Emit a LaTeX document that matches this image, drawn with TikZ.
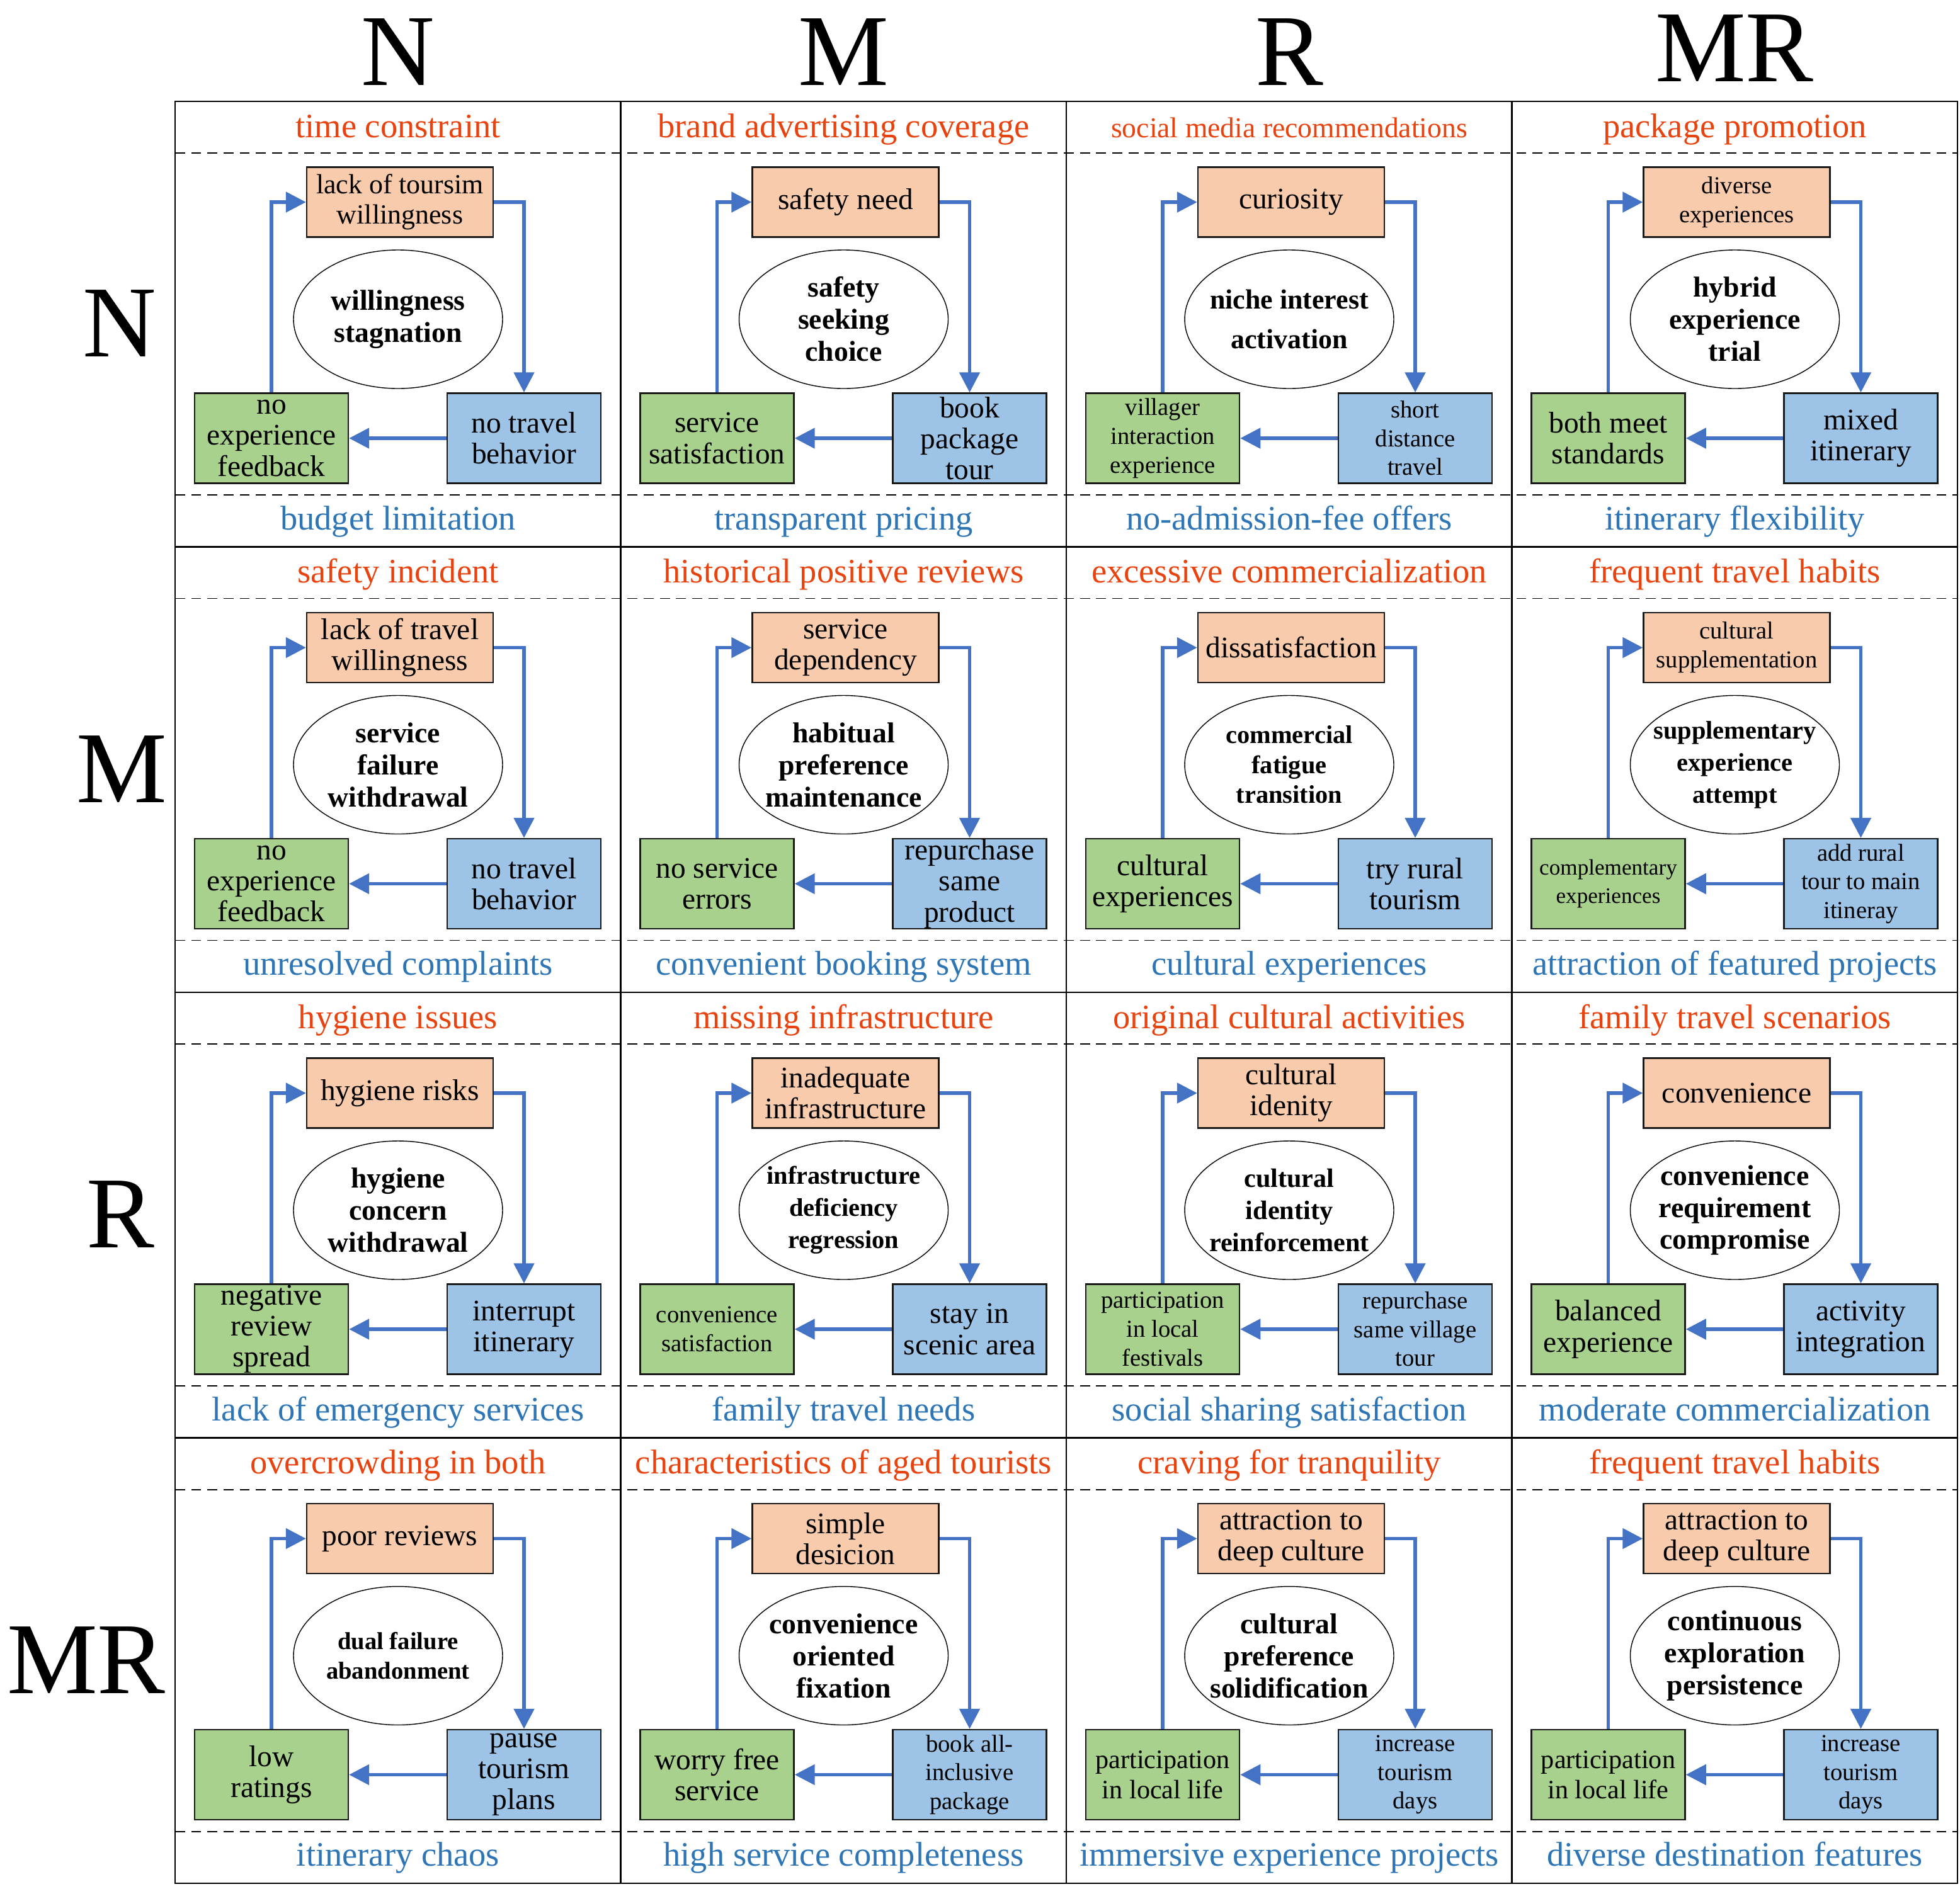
\documentclass[tikz,border=0pt]{standalone}
\usepackage{fontspec}
\setmainfont{Liberation Serif}
\usepackage{tikz}
\usetikzlibrary{arrows.meta, shapes.geometric}

\definecolor{stageorange}{HTML}{F8CBAD}
\definecolor{stageblue}{HTML}{9DC3E6}
\definecolor{stagegreen}{HTML}{A9D18E}
\definecolor{arrowblue}{HTML}{4472C4}
\definecolor{tagred}{HTML}{E8430F}
\definecolor{tagblue}{HTML}{2E75B6}

\newcommand{\stagefont}{\fontsize{13.5}{14}\selectfont}
\newcommand{\stagesmall}{\fontsize{11}{13}\selectfont}
\newcommand{\corefont}{\fontsize{13}{14.5}\selectfont\bfseries}
\newcommand{\tagfont}{\fontsize{15.5}{17}\selectfont}
\newcommand{\axisfont}{\fontsize{46}{46}\selectfont}

\tikzset{
  stagebox/.style={
    rectangle, draw=black!90, line width=0.7pt, fill=#1,
    minimum width=2.44cm, minimum height=1.43cm, inner sep=0pt,
    align=center, font=\stagefont
  },
  instate/.style={stagebox=stageorange, minimum width=2.96cm, minimum height=1.11cm},
  actbox/.style={stagebox=stageblue},
  fbbox/.style={stagebox=stagegreen},
  coreoval/.style={
    ellipse, draw=black, line width=0.4pt,
    minimum width=3.32cm, minimum height=2.2cm,
    inner xsep=-0.15cm, inner ysep=0pt,
    align=center, font=\corefont
  },
  looparrow/.style={-{Triangle[length=3.2mm, width=3.2mm]}, line width=1.5pt, color=arrowblue},
  triggerlabel/.style={anchor=base, text=tagred, font=\tagfont},
  outcomelabel/.style={anchor=base, text=tagblue, font=\tagfont},
  gridline/.style={line width=0.8pt, black},
  splitline/.style={line width=0.55pt, black, dash pattern=on 4.5pt off 2.8pt},
  axislabel/.style={anchor=base, font=\axisfont},
}

\begin{document}
\begin{tikzpicture}
  \useasboundingbox (0,0) rectangle (31.12,-30.07);

  % grid
  \draw[gridline] (2.78,-1.61) rectangle (31.08,-29.91);
  \foreach \x in {9.855,16.93,24.005}
    \draw[gridline] (\x,-1.61) -- (\x,-29.91);
  \foreach \y in {-8.685,-15.76,-22.835}
    \draw[gridline] (2.78,\y) -- (31.08,\y);
  \foreach \y in {-1.61,-8.685,-15.76,-22.835} {
    \draw[splitline] (2.78,\y-0.82) -- (31.08,\y-0.82);
    \draw[splitline] (2.78,\y-6.25) -- (31.08,\y-6.25);
  }

  % axis letters
  \node[axislabel] (col-n)  at (6.32,-1.35)  {N};
  \node[axislabel] (col-m)  at (13.39,-1.35) {M};
  \node[axislabel] (col-r)  at (20.47,-1.35) {R};
  \node[axislabel] (col-mr) at (27.54,-1.29) {MR};
  \node[axislabel] (row-n)  at (1.90,-5.66)  {N};
  \node[axislabel] (row-m)  at (1.93,-12.74) {M};
  \node[axislabel] (row-r)  at (1.91,-19.81) {R};
  \node[axislabel] (row-mr) at (1.37,-26.89) {MR};

  % row N
  \begin{scope}[shift={(2.78,-1.61)}]
    \node[triggerlabel] (r1c1-up)   at (3.54,-0.57) {time constraint};
    \node[instate, font=\fontsize{12.5}{13.8}\selectfont] (r1c1-in) at (3.57,-1.60) {lack of toursim\\willingness};
    \node[coreoval]     (r1c1-core) at (3.54,-3.46) {willingness\\stagnation};
    \node[actbox]       (r1c1-act)  at (5.54,-5.35) {no travel\\behavior};
    \node[fbbox]        (r1c1-fb)   at (1.53,-5.35) {no\\experience\\feedback};
    \node[outcomelabel] (r1c1-low)  at (3.54,-6.80) {budget limitation};
  \end{scope}
  \begin{scope}[shift={(9.855,-1.61)}]
    \node[triggerlabel] (r1c2-up)   at (3.54,-0.57) {brand advertising coverage};
    \node[instate]      (r1c2-in)   at (3.57,-1.60) {safety need};
    \node[coreoval]     (r1c2-core) at (3.54,-3.46) {safety\\seeking\\choice};
    \node[actbox]       (r1c2-act)  at (5.54,-5.35) {book\\package\\tour};
    \node[fbbox]        (r1c2-fb)   at (1.53,-5.35) {service\\satisfaction};
    \node[outcomelabel] (r1c2-low)  at (3.54,-6.80) {transparent pricing};
  \end{scope}
  \begin{scope}[shift={(16.93,-1.61)}]
    \node[triggerlabel, font=\fontsize{13}{15}\selectfont] (r1c3-up) at (3.54,-0.57) {social media recommendations};
    \node[instate]      (r1c3-in)   at (3.57,-1.60) {curiosity};
    \node[coreoval, font=\fontsize{12.5}{18}\selectfont\bfseries] (r1c3-core) at (3.54,-3.46) {niche interest\\activation};
    \node[actbox, font=\stagesmall] (r1c3-act) at (5.54,-5.35) {short\\distance\\travel};
    \node[fbbox, font=\stagesmall]  (r1c3-fb)  at (1.53,-5.35) {villager\\interaction\\experience};
    \node[outcomelabel] (r1c3-low)  at (3.54,-6.80) {no-admission-fee offers};
  \end{scope}
  \begin{scope}[shift={(24.005,-1.61)}]
    \node[triggerlabel] (r1c4-up)   at (3.54,-0.57) {package promotion};
    \node[instate, font=\stagesmall] (r1c4-in) at (3.57,-1.60) {diverse\\experiences};
    \node[coreoval]     (r1c4-core) at (3.54,-3.46) {hybrid\\experience\\trial};
    \node[actbox]       (r1c4-act)  at (5.54,-5.35) {mixed\\itinerary};
    \node[fbbox]        (r1c4-fb)   at (1.53,-5.35) {both meet\\standards};
    \node[outcomelabel] (r1c4-low)  at (3.54,-6.80) {itinerary flexibility};
  \end{scope}

  % row M
  \begin{scope}[shift={(2.78,-8.685)}]
    \node[triggerlabel] (r2c1-up)   at (3.54,-0.57) {safety incident};
    \node[instate]      (r2c1-in)   at (3.57,-1.60) {lack of travel\\willingness};
    \node[coreoval]     (r2c1-core) at (3.54,-3.46) {service\\failure\\withdrawal};
    \node[actbox]       (r2c1-act)  at (5.54,-5.35) {no travel\\behavior};
    \node[fbbox]        (r2c1-fb)   at (1.53,-5.35) {no\\experience\\feedback};
    \node[outcomelabel] (r2c1-low)  at (3.54,-6.80) {unresolved complaints};
  \end{scope}
  \begin{scope}[shift={(9.855,-8.685)}]
    \node[triggerlabel] (r2c2-up)   at (3.54,-0.57) {historical positive reviews};
    \node[instate]      (r2c2-in)   at (3.57,-1.60) {service\\dependency};
    \node[coreoval]     (r2c2-core) at (3.54,-3.46) {habitual\\preference\\maintenance};
    \node[actbox]       (r2c2-act)  at (5.54,-5.35) {repurchase\\same\\product};
    \node[fbbox]        (r2c2-fb)   at (1.53,-5.35) {no service\\errors};
    \node[outcomelabel] (r2c2-low)  at (3.54,-6.80) {convenient booking system};
  \end{scope}
  \begin{scope}[shift={(16.93,-8.685)}]
    \node[triggerlabel] (r2c3-up)   at (3.54,-0.57) {excessive commercialization};
    \node[instate]      (r2c3-in)   at (3.57,-1.60) {dissatisfaction};
    \node[coreoval, font=\fontsize{11.5}{13.5}\selectfont\bfseries] (r2c3-core) at (3.54,-3.46) {commercial\\fatigue\\transition};
    \node[actbox]       (r2c3-act)  at (5.54,-5.35) {try rural\\tourism};
    \node[fbbox]        (r2c3-fb)   at (1.53,-5.35) {cultural\\experiences};
    \node[outcomelabel] (r2c3-low)  at (3.54,-6.80) {cultural experiences};
  \end{scope}
  \begin{scope}[shift={(24.005,-8.685)}]
    \node[triggerlabel] (r2c4-up)   at (3.54,-0.57) {frequent travel habits};
    \node[instate, font=\stagesmall] (r2c4-in) at (3.57,-1.60) {cultural\\supplementation};
    \node[coreoval, font=\fontsize{11.5}{14.5}\selectfont\bfseries] (r2c4-core) at (3.54,-3.46) {supplementary\\experience\\attempt};
    \node[actbox, font=\stagesmall] (r2c4-act) at (5.54,-5.35) {add rural\\tour to main\\itineray};
    \node[fbbox, font=\fontsize{10}{13}\selectfont] (r2c4-fb) at (1.53,-5.35) {complementary\\experiences};
    \node[outcomelabel] (r2c4-low)  at (3.54,-6.80) {attraction of featured projects};
  \end{scope}

  % row R
  \begin{scope}[shift={(2.78,-15.76)}]
    \node[triggerlabel] (r3c1-up)   at (3.54,-0.57) {hygiene issues};
    \node[instate]      (r3c1-in)   at (3.57,-1.60) {hygiene risks};
    \node[coreoval]     (r3c1-core) at (3.54,-3.46) {hygiene\\concern\\withdrawal};
    \node[actbox]       (r3c1-act)  at (5.54,-5.35) {interrupt\\itinerary};
    \node[fbbox]        (r3c1-fb)   at (1.53,-5.35) {negative\\review\\spread};
    \node[outcomelabel] (r3c1-low)  at (3.54,-6.80) {lack of emergency services};
  \end{scope}
  \begin{scope}[shift={(9.855,-15.76)}]
    \node[triggerlabel] (r3c2-up)   at (3.54,-0.57) {missing infrastructure};
    \node[instate]      (r3c2-in)   at (3.57,-1.60) {inadequate\\infrastructure};
    \node[coreoval, font=\fontsize{11.5}{14.5}\selectfont\bfseries] (r3c2-core) at (3.54,-3.46) {infrastructure\\deficiency\\regression};
    \node[actbox]       (r3c2-act)  at (5.54,-5.35) {stay in\\scenic area};
    \node[fbbox, font=\stagesmall] (r3c2-fb) at (1.53,-5.35) {convenience\\satisfaction};
    \node[outcomelabel] (r3c2-low)  at (3.54,-6.80) {family travel needs};
  \end{scope}
  \begin{scope}[shift={(16.93,-15.76)}]
    \node[triggerlabel] (r3c3-up)   at (3.54,-0.57) {original cultural activities};
    \node[instate]      (r3c3-in)   at (3.57,-1.60) {cultural\\idenity};
    \node[coreoval, font=\fontsize{12}{14.5}\selectfont\bfseries] (r3c3-core) at (3.54,-3.46) {cultural\\identity\\reinforcement};
    \node[actbox, font=\stagesmall] (r3c3-act) at (5.54,-5.35) {repurchase\\same village\\tour};
    \node[fbbox, font=\stagesmall]  (r3c3-fb)  at (1.53,-5.35) {participation\\in local\\festivals};
    \node[outcomelabel] (r3c3-low)  at (3.54,-6.80) {social sharing satisfaction};
  \end{scope}
  \begin{scope}[shift={(24.005,-15.76)}]
    \node[triggerlabel] (r3c4-up)   at (3.54,-0.57) {family travel scenarios};
    \node[instate]      (r3c4-in)   at (3.57,-1.60) {convenience};
    \node[coreoval]     (r3c4-core) at (3.54,-3.46) {convenience\\requirement\\compromise};
    \node[actbox]       (r3c4-act)  at (5.54,-5.35) {activity\\integration};
    \node[fbbox]        (r3c4-fb)   at (1.53,-5.35) {balanced\\experience};
    \node[outcomelabel] (r3c4-low)  at (3.54,-6.80) {moderate commercialization};
  \end{scope}

  % row MR
  \begin{scope}[shift={(2.78,-22.835)}]
    \node[triggerlabel] (r4c1-up)   at (3.54,-0.57) {overcrowding in both};
    \node[instate]      (r4c1-in)   at (3.57,-1.60) {poor reviews};
    \node[coreoval, font=\fontsize{11}{13.5}\selectfont\bfseries] (r4c1-core) at (3.54,-3.46) {dual failure\\abandonment};
    \node[actbox]       (r4c1-act)  at (5.54,-5.35) {pause\\tourism\\plans};
    \node[fbbox]        (r4c1-fb)   at (1.53,-5.35) {low\\ratings};
    \node[outcomelabel] (r4c1-low)  at (3.54,-6.80) {itinerary chaos};
  \end{scope}
  \begin{scope}[shift={(9.855,-22.835)}]
    \node[triggerlabel] (r4c2-up)   at (3.54,-0.57) {characteristics of aged tourists};
    \node[instate]      (r4c2-in)   at (3.57,-1.60) {simple\\desicion};
    \node[coreoval]     (r4c2-core) at (3.54,-3.46) {convenience\\oriented\\fixation};
    \node[actbox, font=\stagesmall] (r4c2-act) at (5.54,-5.35) {book all-\\inclusive\\package};
    \node[fbbox]        (r4c2-fb)   at (1.53,-5.35) {worry free\\service};
    \node[outcomelabel] (r4c2-low)  at (3.54,-6.80) {high service completeness};
  \end{scope}
  \begin{scope}[shift={(16.93,-22.835)}]
    \node[triggerlabel] (r4c3-up)   at (3.54,-0.57) {craving for tranquility};
    \node[instate]      (r4c3-in)   at (3.57,-1.60) {attraction to\\deep culture};
    \node[coreoval]     (r4c3-core) at (3.54,-3.46) {cultural\\preference\\solidification};
    \node[actbox, font=\stagesmall] (r4c3-act) at (5.54,-5.35) {increase\\tourism\\days};
    \node[fbbox, font=\fontsize{12}{13.8}\selectfont] (r4c3-fb) at (1.53,-5.35) {participation\\in local life};
    \node[outcomelabel] (r4c3-low)  at (3.54,-6.80) {immersive experience projects};
  \end{scope}
  \begin{scope}[shift={(24.005,-22.835)}]
    \node[triggerlabel] (r4c4-up)   at (3.54,-0.57) {frequent travel habits};
    \node[instate]      (r4c4-in)   at (3.57,-1.60) {attraction to\\deep culture};
    \node[coreoval]     (r4c4-core) at (3.54,-3.46) {continuous\\exploration\\persistence};
    \node[actbox, font=\stagesmall] (r4c4-act) at (5.54,-5.35) {increase\\tourism\\days};
    \node[fbbox, font=\fontsize{12}{13.8}\selectfont] (r4c4-fb) at (1.53,-5.35) {participation\\in local life};
    \node[outcomelabel] (r4c4-low)  at (3.54,-6.80) {diverse destination features};
  \end{scope}

  % feedback loops
  \foreach \c in {r1c1,r1c2,r1c3,r1c4,r2c1,r2c2,r2c3,r2c4,
                  r3c1,r3c2,r3c3,r3c4,r4c1,r4c2,r4c3,r4c4} {
    \draw[looparrow] (\c-in.east) -| (\c-act.north);
    \draw[looparrow] (\c-act.west) -- (\c-fb.east);
    \draw[looparrow] (\c-fb.north) |- (\c-in.west);
  }
\end{tikzpicture}
\end{document}
